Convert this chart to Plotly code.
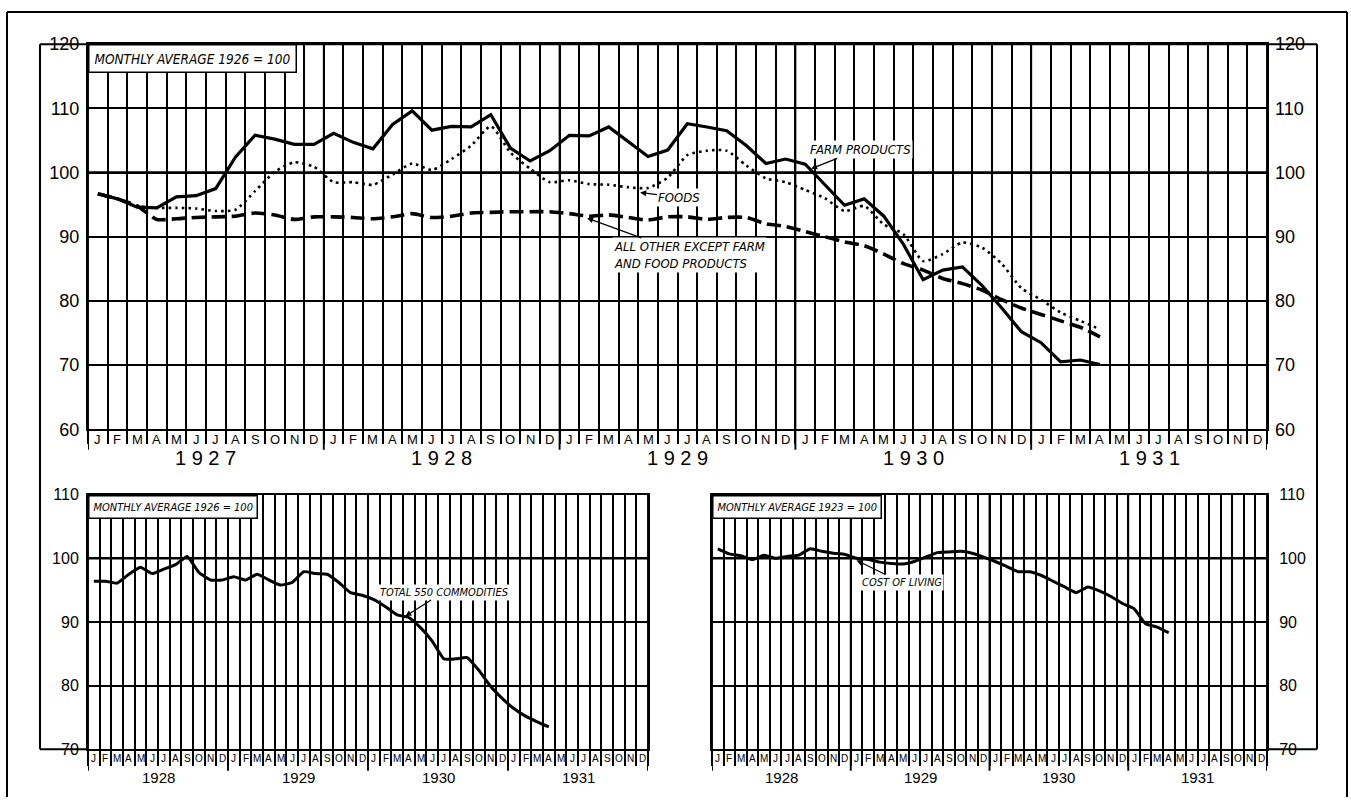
import plotly.graph_objects as go

W, H = 1351, 807

# ---------------- data ----------------
MONTHS = ["J", "F", "M", "A", "M", "J", "J", "A", "S", "O", "N", "D"]
TOP_YEARS = ["1927", "1928", "1929", "1930", "1931"]
LOW_YEARS = ["1928", "1929", "1930", "1931"]
TOP_TICKS = [60, 70, 80, 90, 100, 110, 120]
LOW_TICKS = [70, 80, 90, 100, 110]

# Wholesale prices, monthly average 1926 = 100, Jan 1927 .. Apr 1931
farm_products = [96.7, 95.9, 94.6, 94.5, 96.2, 96.4, 97.5, 102.4, 105.8, 105.2, 104.4, 104.4,
                 106.1, 104.7, 103.7, 107.5, 109.6, 106.6, 107.2, 107.1, 109.0, 103.8, 101.8, 103.4,
                 105.8, 105.7, 107.1, 104.8, 102.5, 103.5, 107.6, 107.1, 106.5, 104.2, 101.4, 102.1,
                 101.3, 98.1, 94.9, 95.9, 93.2, 88.8, 83.3, 84.8, 85.3, 82.4, 78.9, 75.2,
                 73.5, 70.5, 70.8, 70.1]
foods = [96.6, 95.9, 94.8, 94.5, 94.5, 94.4, 94.0, 94.2, 97.1, 100.1, 101.6, 100.9,
         98.5, 98.5, 98.1, 99.7, 101.4, 100.4, 102.1, 104.2, 107.2, 103.1, 100.6, 98.5,
         98.8, 98.2, 98.1, 97.7, 97.6, 99.2, 102.7, 103.4, 103.4, 101.1, 99.1, 98.5,
         97.3, 96.0, 94.0, 94.8, 91.9, 90.4, 86.2, 87.3, 89.1, 88.3, 85.8, 82.0,
         80.2, 78.2, 76.9, 75.6]
all_other = [96.7, 95.9, 94.8, 92.7, 92.8, 93.0, 93.1, 93.2, 93.7, 93.4, 92.7, 93.1,
             93.1, 93.0, 92.8, 93.1, 93.6, 93.0, 93.2, 93.7, 93.8, 93.9, 93.9, 93.9,
             93.6, 93.2, 93.4, 93.0, 92.6, 93.1, 93.1, 92.7, 93.0, 93.0, 92.0, 91.6,
             90.8, 90.0, 89.2, 88.6, 87.3, 85.8, 84.8, 83.5, 82.7, 81.7, 80.2, 78.9,
             77.9, 76.9, 75.9, 74.4]
# Jan 1928 .. Apr 1931
total_550 = [96.4, 96.4, 96.1, 97.5, 98.6, 97.6, 98.3, 99.0, 100.3, 97.8, 96.6, 96.6,
             97.1, 96.6, 97.5, 96.6, 95.8, 96.2, 97.9, 97.6, 97.5, 96.2, 94.6, 94.2,
             93.5, 92.4, 91.1, 90.7, 89.1, 87.0, 84.2, 84.2, 84.4, 82.4, 79.9, 78.0,
             76.4, 75.2, 74.3, 73.5]
# Monthly average 1923 = 100
cost_of_living = [101.5, 100.7, 100.4, 99.8, 100.5, 100.0, 100.3, 100.5, 101.5, 101.1, 100.8, 100.6,
                  100.0, 99.8, 99.4, 99.2, 99.1, 99.5, 100.2, 100.9, 101.0, 101.1, 100.8, 100.2,
                  99.5, 98.7, 97.9, 97.9, 97.3, 96.4, 95.5, 94.6, 95.5, 94.9, 94.0, 92.9,
                  92.1, 89.7, 89.2, 88.3]

# ---------------- geometry (pixels) ----------------
TOP_X = (88, 1267)
TOP_Y = (35, 430)
BL_X = (88, 648)
BR_X = (712, 1267)
LOW_Y = (497, 758)


def fx(p):
    return p / W


def fy(p):
    return 1 - p / H


LABEL_FONT = "Liberation Sans"
ITAL = dict(family="DejaVu Sans Condensed, Liberation Sans Narrow, Liberation Sans",
            style="italic", color="black")

n_top = len(TOP_YEARS) * 12
n_low = len(LOW_YEARS) * 12

fig = go.Figure()


def centers(vals):
    return [i + 0.5 for i in range(len(vals))]


fig.add_trace(go.Scatter(x=centers(farm_products), y=farm_products, mode="lines",
                         line=dict(color="black", width=3.2), xaxis="x", yaxis="y",
                         name="Farm products"))
fig.add_trace(go.Scatter(x=centers(foods), y=foods, mode="lines",
                         line=dict(color="black", width=2.6, dash="2.6px,4px", shape="spline",
                                   smoothing=0.6),
                         xaxis="x", yaxis="y", name="Foods"))
fig.add_trace(go.Scatter(x=centers(all_other), y=all_other, mode="lines",
                         line=dict(color="black", width=3.6, dash="14px,6px", shape="spline",
                                   smoothing=0.6),
                         xaxis="x", yaxis="y", name="All other"))
fig.add_trace(go.Scatter(x=centers(total_550), y=total_550, mode="lines",
                         line=dict(color="black", width=3, shape="spline", smoothing=0.4),
                         xaxis="x2", yaxis="y2", name="Total 550 commodities"))
fig.add_trace(go.Scatter(x=centers(cost_of_living), y=cost_of_living, mode="lines",
                         line=dict(color="black", width=3, shape="spline", smoothing=0.4),
                         xaxis="x3", yaxis="y3", name="Cost of living"))
# helper trace so the right-hand scale of the top chart is drawn
fig.add_trace(go.Scatter(x=[None], y=[None], xaxis="x", yaxis="y4", showlegend=False,
                         hoverinfo="skip"))


def xcfg(xpx, n, anchor, ticklen):
    return dict(domain=[fx(xpx[0]), fx(xpx[1])], range=[0, n], anchor=anchor,
                tickmode="linear", tick0=0, dtick=1, ticks="outside", ticklen=ticklen,
                tickwidth=1.5, tickcolor="black", showticklabels=False,
                showgrid=True, gridcolor="black", gridwidth=1.6,
                showline=True, linecolor="black", linewidth=2, mirror=True,
                zeroline=False, fixedrange=True)


def ycfg(ypx, ticks, anchor, side, size, grid=True, line=True, standoff=4):
    return dict(domain=[fy(ypx[1]), fy(ypx[0])], range=[ticks[0], ticks[-1]], anchor=anchor,
                side=side, tickmode="array", tickvals=ticks, ticks="",
                showgrid=grid, gridcolor="black", gridwidth=2,
                showline=line, linecolor="black", linewidth=2, mirror=line,
                zeroline=False, fixedrange=True, ticklabelstandoff=standoff,
                tickfont=dict(family=LABEL_FONT, size=size, color="black"))


layout = dict(
    width=W, height=H, autosize=False,
    margin=dict(l=0, r=0, t=0, b=0),
    paper_bgcolor="white", plot_bgcolor="white",
    showlegend=False,
    xaxis=xcfg(TOP_X, n_top, "y", 13),
    yaxis=ycfg(TOP_Y, TOP_TICKS, "x", "left", 18, standoff=3),
    yaxis4=dict(ycfg(TOP_Y, TOP_TICKS, "x", "right", 18, grid=False, line=False, standoff=7),
                overlaying="y"),
    xaxis2=xcfg(BL_X, n_low, "y2", 15),
    yaxis2=ycfg(LOW_Y, LOW_TICKS, "x2", "left", 16, standoff=4),
    xaxis3=xcfg(BR_X, n_low, "y3", 15),
    yaxis3=ycfg(LOW_Y, LOW_TICKS, "x3", "right", 16, standoff=7),
)
fig.update_layout(**layout)

ann = []
shapes = []

# month letters and year labels
for xref, n, years, my, yy, msize, ysize, spaced, yend, ytop in [
    ("x", n_top, TOP_YEARS, 440, 459, 13, 20, True, 451, TOP_Y[0]),
    ("x2", n_low, LOW_YEARS, 768, 787, 10, 15, False, 780, LOW_Y[0]),
    ("x3", n_low, LOW_YEARS, 768, 787, 10, 15, False, 780, LOW_Y[0]),
]:
    for i in range(n):
        ann.append(dict(x=i + 0.5, xref=xref, y=fy(my), yref="paper", text=MONTHS[i % 12],
                        xanchor="center", yanchor="middle", showarrow=False,
                        font=dict(family=LABEL_FONT, size=msize, color="black")))
    for k, yr in enumerate(years):
        ann.append(dict(x=12 * k + 6, xref=xref, y=fy(yy), yref="paper",
                        xanchor="center", yanchor="middle",
                        text=" ".join(yr) if spaced else yr, showarrow=False,
                        font=dict(family=LABEL_FONT, size=ysize, color="black")))
    for k in range(len(years) + 1):
        shapes.append(dict(type="line", xref=xref, yref="paper", x0=12 * k, x1=12 * k,
                           y0=fy(yend), y1=fy(ytop),
                           line=dict(color="black", width=1.9)))

# thicker 100 lines
for xr, yr in [("x", "y"), ("x2", "y2"), ("x3", "y3")]:
    shapes.append(dict(type="line", xref=f"{xr} domain", yref=yr, x0=0, x1=1, y0=100, y1=100,
                       line=dict(color="black", width=2.6)))


# frames
def pline(x0, y0, x1, y1, w=2):
    shapes.append(dict(type="line", xref="paper", yref="paper", x0=fx(x0), x1=fx(x1),
                       y0=fy(y0), y1=fy(y1), line=dict(color="black", width=w)))


pline(7, 2, 7, 807, 2)
pline(7, 2, 1347, 2, 2)
pline(1347, 2, 1347, 807, 2)
pline(40, TOP_Y[0], 1317, TOP_Y[0])
pline(40, TOP_Y[0], 40, LOW_Y[1])
pline(1317, TOP_Y[0], 1317, LOW_Y[1])
pline(40, LOW_Y[1], BL_X[0], LOW_Y[1])
pline(BR_X[1], LOW_Y[1], 1317, LOW_Y[1])

# boxed base notes
for x0, y0, txt, size, pad in [
    (TOP_X[0], TOP_Y[0], "MONTHLY AVERAGE 1926 = 100", 13.5, 5),
    (BL_X[0], LOW_Y[0], "MONTHLY AVERAGE 1926 = 100", 11, 4),
    (BR_X[0], LOW_Y[0], "MONTHLY AVERAGE 1923 = 100", 11, 4),
]:
    ann.append(dict(x=fx(x0), y=fy(y0), xref="paper", yref="paper", xanchor="left",
                    yanchor="top", text=txt, showarrow=False, bgcolor="white",
                    bordercolor="black", borderwidth=1.5, borderpad=pad,
                    font=dict(ITAL, size=size)))


# series labels with pointers
def label(xref, yref, tip, pos, text, size):
    ann.append(dict(x=tip[0], y=tip[1], xref=xref, yref=yref, ax=pos[0], ay=pos[1],
                    axref=xref, ayref=yref, text=text, showarrow=True, arrowhead=2,
                    arrowsize=1, arrowwidth=1.2, arrowcolor="black", align="left",
                    bgcolor="white", font=dict(ITAL, size=size)))


label("x", "y", (36.8, 100.6), (39.3, 103.6), "FARM PRODUCTS", 13)
label("x", "y", (28.1, 96.9), (30.1, 96.1), "FOODS", 13)
label("x", "y", (25.4, 92.9), (30.6, 87.1), "ALL OTHER EXCEPT FARM<br>AND FOOD PRODUCTS", 13)
label("x2", "y2", (27.2, 90.9), (30.5, 94.7), "TOTAL 550 COMMODITIES", 11)
label("x3", "y3", (12.5, 99.7), (16.4, 96.2), "COST OF LIVING", 11)

fig.update_layout(annotations=ann, shapes=shapes)
fig.write_html("out.html",
               config={"displayModeBar": False},
               post_script="document.body.style.margin='0px';"
                           "document.body.style.overflow='hidden';")
